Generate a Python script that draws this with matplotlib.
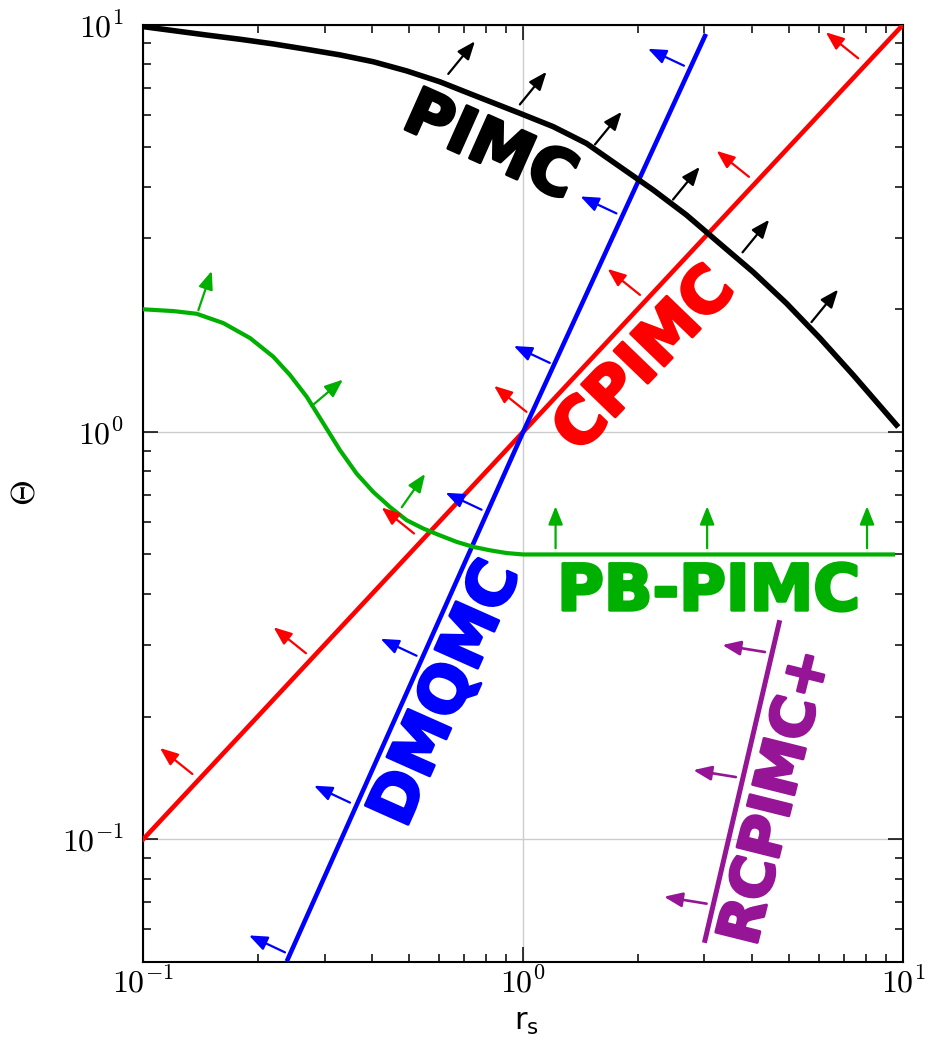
import numpy as np
import matplotlib
matplotlib.use('Agg')
import matplotlib.pyplot as plt
import matplotlib.ticker as mticker
import matplotlib.patheffects as pe

plt.rcParams['mathtext.fontset'] = 'cm'

# --- data (rs, Theta) ---
pimc_rs = [0.1, 0.120, 0.147, 0.1797, 0.2198, 0.2692, 0.3293, 0.403, 0.4934, 0.6037, 0.7387,
           0.98, 1.199, 1.468, 1.797, 2.198, 2.69, 3.294, 4.03, 4.93, 6.04, 7.39, 9.61]
pimc_th = [9.89, 9.67, 9.43, 9.21, 8.97, 8.70, 8.43, 8.11, 7.70, 7.24, 6.72,
           6.06, 5.62, 5.11, 4.48, 3.93, 3.41, 2.90, 2.47, 2.07, 1.70, 1.38, 1.04]

cpimc_rs = [0.1, 10.0]
cpimc_th = [0.1, 10.0]

dmqmc_rs = [0.24, 1.0, 3.01]
dmqmc_th = [0.0507, 1.0, 9.38]

pbpimc_rs = [0.1, 0.120, 0.1382, 0.1624, 0.1909, 0.2198, 0.2432, 0.2692, 0.2976, 0.3293, 0.3643,
             0.403, 0.4459, 0.4934, 0.5456, 0.6037, 0.6678, 0.7387, 0.8173, 0.904, 1.0, 9.41]
pbpimc_th = [2.00, 1.98, 1.95, 1.85, 1.70, 1.53, 1.38, 1.22, 1.05, 0.902, 0.790,
             0.712, 0.654, 0.607, 0.579, 0.557, 0.537, 0.522, 0.512, 0.504, 0.5, 0.5]

rcpimc_rs = [3.01, 4.72]
rcpimc_th = [0.0564, 0.340]

# arrow bases
pimc_arr_rs = [0.635, 0.98, 1.545, 2.48, 3.78, 5.74]
pimc_arr_th = [7.57, 6.37, 5.08, 3.72, 2.76, 1.86]
cpimc_arr_rs = [7.62, 3.93, 2.03, 1.02, 0.516, 0.268, 0.1346]
cpimc_arr_th = [8.27, 4.23, 2.17, 1.12, 0.563, 0.286, 0.1445]
dmqmc_arr_rs = [2.65, 1.76, 1.175, 0.777, 0.524, 0.35, 0.236]
dmqmc_arr_th = [7.93, 3.44, 1.477, 0.644, 0.282, 0.1229, 0.0527]
pbpimc_arr_rs = [0.1396, 0.277, 0.479, 1.217, 3.05, 8.04]
pbpimc_arr_th = [1.99, 1.156, 0.653, 0.518, 0.518, 0.518]
rcpimc_arr_rs = [4.33, 3.63, 3.04]
rcpimc_arr_th = [0.288, 0.142, 0.0694]

ticks = [0.1, 1, 10]
tick_labels = [r'$10^{-1}$', r'$10^{0}$', r'$10^{1}$']

BLACK = 'black'
RED = '#ff0000'
BLUE = '#0000ff'
GREEN = '#00b000'
PURPLE = '#961496'

fig = plt.figure(figsize=(9.35, 10.42), dpi=100)
ax = fig.add_axes([0.1533, 0.0771, 0.8125, 0.8992])
ax.set_xscale('log')
ax.set_yscale('log')
ax.set_xlim(0.1, 10)
ax.set_ylim(0.05, 10)

for axis in (ax.xaxis, ax.yaxis):
    axis.set_major_locator(mticker.FixedLocator(ticks))
    axis.set_major_formatter(mticker.FixedFormatter(tick_labels))
    axis.set_minor_formatter(mticker.NullFormatter())

ax.grid(True, which='major', color='#cccccc', lw=1.0, zorder=0)
ax.tick_params(which='both', direction='in', top=True, right=True, width=1.1)
ax.tick_params(which='major', length=11)
ax.tick_params(which='minor', length=5.5)
ax.tick_params(axis='x', which='major', labelsize=23, pad=4)
ax.tick_params(axis='y', which='major', labelsize=23, pad=14)
for s in ax.spines.values():
    s.set_linewidth(1.5)

ax.set_xlabel(r'$\mathregular{r_s}$', fontsize=22, va='center')
ax.xaxis.set_label_coords(0.505, -0.0644)
ax.set_ylabel(r'$\Theta$', fontsize=24, va='center')
ax.yaxis.set_label_coords(-0.1557, 0.5)

ax.plot(cpimc_rs, cpimc_th, color=RED, lw=3.3, zorder=3)
ax.plot(dmqmc_rs, dmqmc_th, color=BLUE, lw=3.3, zorder=3)
ax.plot(pbpimc_rs, pbpimc_th, color=GREEN, lw=3.0, zorder=3)
ax.plot(pimc_rs, pimc_th, color=BLACK, lw=4.0, zorder=4)
ax.plot(rcpimc_rs, rcpimc_th, color=PURPLE, lw=3.6, zorder=3)


def arrows(xs, ys, dirs, color, lw=1.6):
    for x, y, (ddx, ddy) in zip(xs, ys, dirs):
        ax.annotate('', xy=(x, y), xytext=(ddx, ddy), textcoords='offset points',
                    arrowprops=dict(arrowstyle='<|-,head_length=0.55,head_width=0.22',
                                    color=color, lw=lw, shrinkA=0, shrinkB=0,
                                    mutation_scale=20), zorder=5)


arrows(pimc_arr_rs, pimc_arr_th, [(19.2, 23.5)] * 6, BLACK)
arrows(cpimc_arr_rs, cpimc_arr_th, [(-23.3, 18.7)] * 7, RED)
arrows(dmqmc_arr_rs, dmqmc_arr_th, [(-25.9, 12.2)] * 7, BLUE)
arrows(pbpimc_arr_rs, pbpimc_arr_th,
       [(9.6, 28.3), (22.7, 19.2), (16.8, 24.0), (0, 30.2), (0, 30.2), (0, 30.2)], GREEN)
arrows(rcpimc_arr_rs, rcpimc_arr_th, [(-30.7, 5.0)] * 3, PURPLE, lw=1.9)


def label(x, y, s, color, rot, size=46):
    t = ax.text(x, y, s, color=color, rotation=rot, fontsize=size, fontweight='bold',
                family='DejaVu Sans', ha='center', va='center', rotation_mode='anchor', zorder=6)
    t.set_path_effects([pe.withStroke(linewidth=2.2, foreground=color)])


label(0.817, 5.0, 'PIMC', BLACK, -24)
label(2.09, 1.50, 'CPIMC', RED, 46)
label(0.628, 0.2276, 'DMQMC', BLUE, 66)
label(3.08, 0.404, 'PB-PIMC', GREEN, 0)
label(4.64, 0.1268, 'RCPIMC+', PURPLE, 76, size=42)

fig.savefig('out.png', dpi=100)
